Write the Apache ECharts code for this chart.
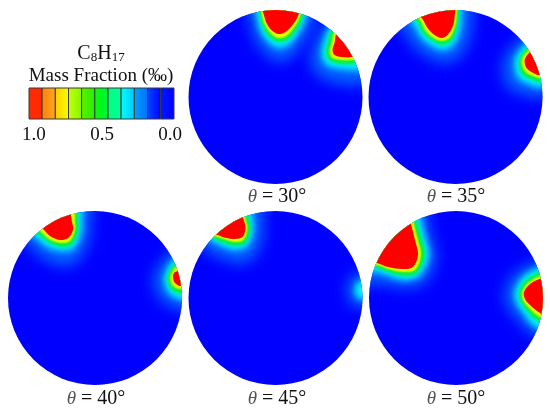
<!DOCTYPE html>
<html><head><meta charset="utf-8">
<style>html,body{margin:0;padding:0;background:#fff}#c{width:550px;height:415px}</style>
<script src="https://cdn.jsdelivr.net/npm/echarts@6/dist/echarts.min.js"></script>
</head><body><div id="c"></div>
<script>
// Contours, as [x, y] offsets from each disc's centre (disc radius = 87 units).
const p30a = {
 glow:[[-28,110],[-25,72],[-18,52],[-6,40],[4,35],[16,40],[29,57],[38,75],[40,110]],
 cyan:[[-20,110],[-18,76],[-13,62],[-5,53],[3,49],[13,52],[23,64],[30,78],[33,110]],
 green:[[-17,110],[-15,78],[-11,66],[-4,58],[3,55],[12,57],[21,67],[27,80],[30,110]],
 yellow:[[-15,110],[-13,79],[-9,69],[-3,62],[3,59],[11,61],[19,70],[25,82],[28,110]],
 red:[[-13,95],[-11,80],[-8,72],[-3,66],[3,63],[10,65],[17,72],[22,80],[26,95]]
};
const p30b = {
 glow:[[50,72],[38,52],[35,35],[42,22],[60,14],[82,12],[110,25],[100,90]],
 cyan:[[55,70],[48,55],[46,42],[51,32],[66,28],[80,27],[110,30],[100,90]],
 green:[[57,68],[52,54],[50,44],[54,36],[66,33],[79,33],[110,36],[100,90]],
 yellow:[[60,66],[56,54],[54,45],[57,39],[66,37],[77,37],[110,40],[100,90]],
 red:[[62,64],[59,54],[57,47],[59,42],[66,40],[76,40],[85,45],[80,62]]
};
const p35a = {
 glow:[[-58,74],[-50,62],[-40,48],[-26,39],[-12,34],[4,40],[14,58],[17,78],[15,110],[-80,110]],
 cyan:[[-48,80],[-41,71],[-34,59],[-24,51],[-13,47],[-3,51],[4,65],[6,79],[5,110],[-70,110]],
 green:[[-44,82],[-38,74],[-32,63],[-23,56],[-14,52],[-5,55],[1,67],[3,79],[2,110],[-60,110]],
 yellow:[[-41,84],[-35,76],[-30,66],[-22,59],[-14,56],[-6,59],[-1,69],[1,79],[0,110],[-55,110]],
 red:[[-38,84],[-33,78],[-28,69],[-21,62],[-14,59],[-8,62],[-3,70],[-1,79],[-2,95],[-40,95]]
};
const p35b = {
 glow:[[65,58],[50,42],[47,28],[52,10],[70,2],[88,0],[115,30],[100,80]],
 cyan:[[70,53],[61,42],[59,33],[62,20],[73,13],[88,10],[115,30],[100,80]],
 green:[[72,50],[65,41],[63,34],[66,23],[74,18],[88,15],[115,30],[100,70]],
 yellow:[[74,48],[68,41],[66,35],[69,26],[75,22],[86,19],[115,30],[100,70]],
 red:[[76,46],[71,41],[69,36],[71,29],[76,25],[84,22],[92,30],[88,50]]
};
const p40a = {
 glow:[[-72,58],[-62,48],[-50,38],[-34,32],[-18,36],[-6,58],[-4,76],[-6,110],[-95,100]],
 cyan:[[-65,65],[-58,59],[-48,51],[-34,47],[-22,49],[-14,64],[-13,76],[-16,110],[-90,100]],
 green:[[-61,68],[-56,63],[-47,56],[-35,51],[-24,53],[-17,66],[-17,76],[-20,110],[-85,100]],
 yellow:[[-59,71],[-54,66],[-46,59],[-35,55],[-25,57],[-20,68],[-20,76],[-23,110],[-80,100]],
 red:[[-56,72],[-52,69],[-45,62],[-35,58],[-27,60],[-22,68],[-23,76],[-26,85],[-60,85]]
};
const p40b = {
 glow:[[75,45],[62,30],[58,16],[66,-2],[85,-12],[110,-12],[110,55]],
 cyan:[[78,38],[72,29],[69,20],[73,6],[85,-1],[110,0],[110,50]],
 green:[[80,34],[75,28],[72,20],[76,9],[85,4],[110,5],[110,45]],
 yellow:[[81,31],[77,26],[75,20],[78,12],[85,9],[110,10],[110,40]],
 red:[[83,27],[79,25],[78,20],[80,15],[85,12],[92,15],[92,27]]
};
const p45a = {
 glow:[[-75,52],[-64,44],[-50,38],[-38,34],[-22,40],[-12,62],[-12,80],[-14,110],[-100,80]],
 cyan:[[-68,60],[-60,55],[-49,50],[-40,48],[-28,52],[-22,68],[-23,80],[-26,110],[-90,90]],
 green:[[-66,62],[-59,58],[-49,54],[-40,52],[-30,55],[-25,69],[-27,80],[-29,110],[-90,90]],
 yellow:[[-64,63],[-58,61],[-49,58],[-41,56],[-32,58],[-28,70],[-30,79],[-32,110],[-85,90]],
 red:[[-62,65],[-58,63],[-49,60],[-41,59],[-33,61],[-30,70],[-32,79],[-35,88],[-65,88]]
};
const p45b = {
 glow:[[84,26],[74,18],[71,8],[74,-3],[85,-10],[110,10]],
 cyan:[[85,18],[81,14],[79,8],[81,2],[86,-2],[110,8]]
};
const p50a = {
 glow:[[-110,15],[-80,14],[-65,12],[-50,10],[-30,16],[-20,40],[-24,60],[-28,78],[-32,110],[-110,110]],
 cyan:[[-110,28],[-79,26],[-67,22],[-53,18],[-37,22],[-27,42],[-30,58],[-35,78],[-40,110],[-110,110]],
 green:[[-110,32],[-79,30],[-68,26],[-53,22],[-39,25],[-31,43],[-34,58],[-39,76],[-44,110],[-110,110]],
 yellow:[[-110,34],[-79,33],[-68,29],[-53,26],[-41,28],[-35,43],[-38,58],[-42,74],[-48,110],[-110,110]],
 red:[[-84,36],[-79,35],[-68,31],[-53,29],[-43,31],[-38,43],[-41,58],[-45,74],[-50,95],[-95,95]]
};
const p50b = {
 glow:[[100,44],[66,30],[50,12],[50,-6],[62,-22],[76,-36],[110,-44],[110,44]],
 cyan:[[100,36],[70,24],[59,8],[60,-4],[67,-15],[78,-28],[110,-40],[110,36]],
 green:[[100,32],[72,20],[63,7],[64,-3],[70,-12],[80,-22],[110,-36],[110,32]],
 yellow:[[100,29],[73,16],[66,6],[67,-2],[72,-9],[82,-18],[110,-32],[110,29]],
 red:[[86,20],[74,14],[68,6],[69,-1],[74,-7],[84,-15],[92,-18],[92,20]]
};
const angles = ['30','35','40','45','50'];
const plumes = [[p30a,p30b],[p35a,p35b],[p40a,p40b],[p45a,p45b],[p50a,p50b]];
const barEdges = [1.036,0.94,0.843,0.746,0.65,0.553,0.456,0.36,0.263,0.166,0.07,-0.028];
const barLeft = ['#ff2a00','#ff8000','#ffcc00','#c8ff00','#60f000','#00ff00','#00ff78','#00ffff','#00a0ff','#0048ff','#0018ff'];
const barRight = ['#ff2a00','#ffa828','#f4ff00','#80f800','#20f000','#00f040','#00ffa8','#00c8ff','#0070ff','#0000ff','#0000ff'];
const barTicks = [0,0.5,1];

// styling: [contour, colour, blur]; every level but red is drawn as a soft blurred edge
const R = 87;
const layout = [[188.5,10],[368.5,10],[8,211],[188.5,211],[369,211]];
const labelPos = [[277,187],[456,187],[96,389],[277,389],[456,389]];
const levels = [
 ['glow','#0064ff',14],
 ['cyan','#00f4ff',6],
 ['green','#00f040',3],
 ['yellow','#e8f800',2],
 ['red','#ff0000',0]
];
const serif = '"Liberation Serif","Times New Roman",serif';
const OFF = 3000;

const grid=[],xAxis=[],yAxis=[],series=[],title=[];
plumes.forEach((pl,i)=>{
  const items=[null];
  levels.forEach(l=>pl.forEach(p=>{ if(p[l[0]]) items.push({pts:p[l[0]],l}); }));
  grid.push({left:layout[i][0],top:layout[i][1],width:2*R,height:2*R});
  xAxis.push({type:'value',gridIndex:i,min:-R,max:R,show:false});
  yAxis.push({type:'value',gridIndex:i,min:-R,max:R,show:false});
  series.push({
    type:'custom',xAxisIndex:i,yAxisIndex:i,clip:false,silent:true,animation:false,
    data:items.map((_,k)=>[k]),
    encode:{x:[],y:[]},
    renderItem(params,api){
      const c=api.coord([0,0]), r=api.size([R,0])[0];
      const it=items[params.dataIndex];
      if(!it) return {type:'circle',shape:{cx:c[0],cy:c[1],r},style:{fill:'#0000ff'}};
      const soft=it.l[2]>0, dx=soft?-OFF:0;
      return {type:'polygon',
        shape:{points:it.pts.map(p=>{const q=api.coord(p);return [q[0]+dx,q[1]];}),smooth:0.35},
        style:soft?{fill:'#000',shadowBlur:it.l[2],shadowColor:it.l[1],shadowOffsetX:OFF}:{fill:it.l[1]},
        clipPath:{type:'circle',shape:{cx:c[0],cy:c[1],r}}};
    }
  });
  title.push({left:labelPos[i][0],top:labelPos[i][1],textAlign:'center',padding:0,
    text:'{t|θ}{n| = '+angles[i]+'°}',
    textStyle:{fontWeight:'normal',rich:{t:{fontFamily:serif,fontStyle:'italic',fontWeight:'normal',fontSize:19,color:'#555'},
                     n:{fontFamily:serif,fontWeight:'normal',fontSize:20,color:'#111'}}}});
});

// colour bar
const bi=plumes.length;
grid.push({left:29,top:88,width:145,height:31});
xAxis.push({type:'value',gridIndex:bi,min:barEdges[barEdges.length-1],max:barEdges[0],inverse:true,
  axisLine:{show:false},axisTick:{show:false},splitLine:{show:false},
  axisLabel:{customValues:barTicks,margin:7,fontFamily:serif,fontSize:19,color:'#111',
    formatter:v=>v.toFixed(1)}});
yAxis.push({type:'value',gridIndex:bi,min:0,max:1,show:false});
series.push({type:'custom',xAxisIndex:bi,yAxisIndex:bi,clip:false,silent:true,animation:false,
  data:barLeft.map((_,k)=>[k]),encode:{x:[],y:[]},
  renderItem(params,api){
    const k=params.dataIndex;
    const a=api.coord([barEdges[k],1]), b=api.coord([barEdges[k+1],0]);
    return {type:'rect',shape:{x:a[0],y:a[1],width:b[0]-a[0],height:b[1]-a[1]},
      style:{stroke:'#3a3a3a',lineWidth:1,
        fill:{type:'linear',x:0,y:0,x2:1,y2:0,colorStops:[{offset:0,color:barLeft[k]},{offset:1,color:barRight[k]}]}}};
  }});
title.push({left:101,top:44,textAlign:'center',padding:0,text:'C{s|8}H{s|17}',
  textStyle:{fontFamily:serif,fontSize:20,fontWeight:'normal',color:'#111',
    rich:{s:{fontFamily:serif,fontSize:13,color:'#111',verticalAlign:'bottom',lineHeight:18}}}});
title.push({left:101,top:67,textAlign:'center',padding:0,text:'Mass Fraction (‰)',
  textStyle:{fontFamily:serif,fontSize:19,fontWeight:'normal',color:'#111'}});

const chart=echarts.init(document.getElementById('c'),null,{renderer:'canvas'});
chart.setOption({backgroundColor:'#fff',animation:false,title,grid,xAxis,yAxis,series});
</script></body></html>
